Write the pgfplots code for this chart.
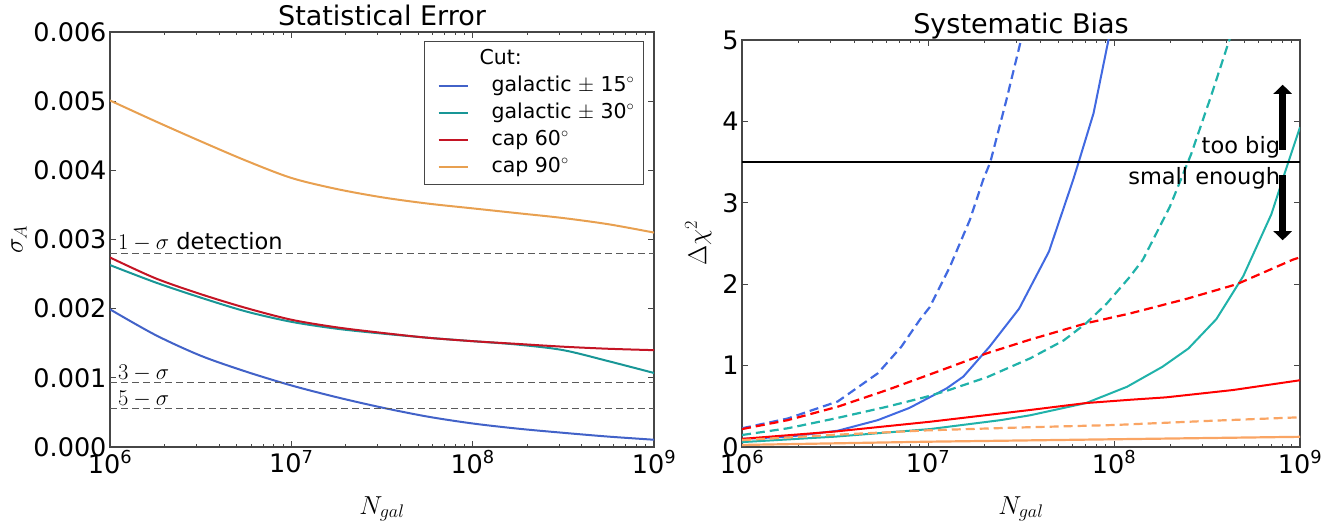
\RequirePackage{fix-cm}
\documentclass[border=0pt]{standalone}
\usepackage{fontspec}
\setmainfont{DejaVu Sans}
\usepackage{pgfplots}
\pgfplotsset{compat=1.18}
\usetikzlibrary{arrows.meta}

\definecolor{lblue}{RGB}{66,98,200}
\definecolor{lteal}{RGB}{24,150,150}
\definecolor{lred}{RGB}{196,20,36}
\definecolor{lorange}{RGB}{232,160,80}
\definecolor{rblue}{RGB}{65,105,225}
\definecolor{rteal}{RGB}{32,178,170}
\definecolor{rred}{RGB}{255,0,0}
\definecolor{rorange}{RGB}{250,165,100}
\definecolor{axgray}{RGB}{70,70,70}
\definecolor{dgray}{RGB}{90,90,90}

\newcommand\tickfont{\fontsize{25.5}{30}\selectfont}
\newcommand\titlefont{\fontsize{27}{32}\selectfont}
\newcommand\labfont{\fontsize{26}{31}\selectfont}
\newcommand\legfont{\fontsize{20.5}{24}\selectfont}
\newcommand\annfont{\fontsize{22.5}{26}\selectfont}

\begin{document}
\begin{tikzpicture}
\useasboundingbox (0pt,0pt) rectangle (1342pt,527pt);

% ---------------- Left: Statistical Error ----------------
\begin{axis}[
  scale only axis, anchor=south west,
  xmode=log, xmin=1e6, xmax=1e9,
  axis line style={line width=1.3pt, draw=axgray},
  tick style={axgray, line width=0.9pt},
  major tick length=6pt, minor tick length=3pt,
  tick label style={font=\tickfont},
  label style={font=\labfont},
  title style={font=\titlefont, at={(0.5,1)}, anchor=base},
  xtick={1e6,1e7,1e8,1e9},
  xticklabels={10\textsuperscript{6},10\textsuperscript{7},10\textsuperscript{8},10\textsuperscript{9}},
  minor xtick={2e6,3e6,4e6,5e6,6e6,7e6,8e6,9e6,2e7,3e7,4e7,5e7,6e7,7e7,8e7,9e7,2e8,3e8,4e8,5e8,6e8,7e8,8e8,9e8},
  xlabel shift=16pt, ylabel shift=0pt,
  at={(110pt,80pt)}, width=544pt, height=415pt,
  ymin=0, ymax=0.006,
  ytick={0,0.001,0.002,0.003,0.004,0.005,0.006},
  yticklabels={0.000,0.001,0.002,0.003,0.004,0.005,0.006},
  scaled y ticks=false,
  title={Statistical Error},
  xlabel={$N_{gal}$}, ylabel={$\sigma_A$},
  legend cell align=left,
  legend image code/.code={\path (0pt,0pt); \draw[#1] (7pt,0pt) -- (36pt,0pt);},
  legend style={at={(1,1)}, anchor=north east, xshift=-10pt, yshift=-9pt,
    draw=axgray, line width=1.2pt, fill=white, font=\legfont,
    inner xsep=6pt, inner ysep=4pt, row sep=0pt,
    nodes={inner xsep=3pt, inner ysep=3.5pt, text height=15pt, text depth=5pt},
    /tikz/every odd column/.append style={column sep=20pt}},
]
\addlegendimage{legend image code/.code={}}
\addlegendentry{\hspace{-12pt}Cut:}

\addplot[lblue, line width=2pt, smooth] coordinates {
(1e6,0.00199) (1.778e6,0.00162) (3.162e6,0.00132) (5.623e6,0.00109) (1e7,0.00089)
(1.778e7,0.00072) (3.162e7,0.00057) (5.623e7,0.00044) (1e8,0.00034)
(1.778e8,0.000265) (3.162e8,0.000205) (5.623e8,0.00015) (1e9,0.000105)};
\addlegendentry{galactic $\pm$ 15$^{\circ}$}

\addplot[lteal, line width=2pt, smooth] coordinates {
(1e6,0.00263) (1.778e6,0.00238) (3.162e6,0.00216) (5.623e6,0.00196) (1e7,0.00181)
(1.778e7,0.00171) (3.162e7,0.00164) (5.623e7,0.00158) (1e8,0.00153)
(1.778e8,0.00148) (3.162e8,0.00140) (5.623e8,0.00124) (1e9,0.00107)};
\addlegendentry{galactic $\pm$ 30$^{\circ}$}

\addplot[lred, line width=2pt, smooth] coordinates {
(1e6,0.00274) (1.778e6,0.00244) (3.162e6,0.00221) (5.623e6,0.00201) (1e7,0.00184)
(1.778e7,0.00173) (3.162e7,0.00165) (5.623e7,0.00158) (1e8,0.00153)
(1.778e8,0.00149) (3.162e8,0.00145) (5.623e8,0.00142) (1e9,0.00140)};
\addlegendentry{cap 60$^{\circ}$}

\addplot[lorange, line width=2pt, smooth] coordinates {
(1e6,0.00501) (1.778e6,0.00471) (3.162e6,0.00442) (5.623e6,0.00414) (1e7,0.00389)
(1.778e7,0.00373) (3.162e7,0.00361) (5.623e7,0.00352)
(1e8,0.00345) (1.778e8,0.00338) (3.162e8,0.00331) (5.623e8,0.00322) (1e9,0.00310)};
\addlegendentry{cap 90$^{\circ}$}

\addplot[forget plot, dgray, line width=1.3pt, dash pattern=on 7pt off 4pt] coordinates {(1e6,0.0028) (1e9,0.0028)};
\addplot[forget plot, dgray, line width=1.3pt, dash pattern=on 7pt off 4pt] coordinates {(1e6,0.00093) (1e9,0.00093)};
\addplot[forget plot, dgray, line width=1.3pt, dash pattern=on 7pt off 4pt] coordinates {(1e6,0.00056) (1e9,0.00056)};

\node[anchor=base west, inner sep=0pt, font=\annfont] at (axis cs:1.106e6,0.0028) [yshift=4pt] {$1-\sigma$ detection};
\node[anchor=base west, inner sep=0pt, font=\annfont] at (axis cs:1.106e6,0.00093) [yshift=3pt] {$3-\sigma$};
\node[anchor=base west, inner sep=0pt, font=\annfont] at (axis cs:1.106e6,0.00056) [yshift=3pt] {$5-\sigma$};
\end{axis}

% ---------------- Right: Systematic Bias ----------------
\begin{axis}[
  scale only axis, anchor=south west,
  xmode=log, xmin=1e6, xmax=1e9,
  axis line style={line width=1.3pt, draw=axgray},
  tick style={axgray, line width=0.9pt},
  major tick length=6pt, minor tick length=3pt,
  tick label style={font=\tickfont},
  label style={font=\labfont},
  title style={font=\titlefont, at={(0.5,1)}, anchor=base},
  xtick={1e6,1e7,1e8,1e9},
  xticklabels={10\textsuperscript{6},10\textsuperscript{7},10\textsuperscript{8},10\textsuperscript{9}},
  minor xtick={2e6,3e6,4e6,5e6,6e6,7e6,8e6,9e6,2e7,3e7,4e7,5e7,6e7,7e7,8e7,9e7,2e8,3e8,4e8,5e8,6e8,7e8,8e8,9e8},
  xlabel shift=16pt, ylabel shift=4pt,
  at={(742pt,80pt)}, width=558pt, height=407pt,
  ymin=0, ymax=5,
  ytick={0,1,2,3,4,5}, yticklabels={0,1,2,3,4,5},
  title={Systematic Bias},
  xlabel={$N_{gal}$}, ylabel={$\Delta\chi^2$},
]
\addplot[rblue, line width=2pt] coordinates {
(1e6,0.10) (1.762e6,0.125) (3.273e6,0.20) (5.370e6,0.33) (7.943e6,0.48) (1e7,0.60)
(1.259e7,0.72) (1.549e7,0.865) (2.138e7,1.23) (3.090e7,1.70) (4.467e7,2.40)
(6.026e7,3.28) (6.457e7,3.50) (7.762e7,4.10) (9.333e7,5.0) (1.0e8,5.4)};
\addplot[rblue, line width=2.2pt, dash pattern=on 9pt off 5pt] coordinates {
(1e6,0.23) (1.762e6,0.35) (3.273e6,0.56) (5.370e6,0.905) (7.178e6,1.23) (9.016e6,1.56)
(1.023e7,1.72) (1.309e7,2.21) (1.679e7,2.79) (1.977e7,3.28) (2.163e7,3.50)
(2.630e7,4.25) (3.162e7,5.0) (3.4e7,5.3)};
\addplot[rteal, line width=2pt] coordinates {
(1e6,0.06) (3.162e6,0.127) (1.023e7,0.22) (2.455e7,0.33) (3.548e7,0.39) (7.079e7,0.54)
(1.175e8,0.74) (1.820e8,0.985) (2.512e8,1.21) (3.548e8,1.57) (4.955e8,2.10)
(7.015e8,2.86) (8.511e8,3.45) (1e9,3.93)};
\addplot[rteal, line width=2.2pt, dash pattern=on 9pt off 5pt] coordinates {
(1e6,0.147) (1.762e6,0.23) (3.162e6,0.35) (6.026e6,0.495) (9.550e6,0.61) (1.259e7,0.69)
(2.089e7,0.86) (3.548e7,1.09) (5.370e7,1.31) (7.079e7,1.52) (9.120e7,1.76)
(1.216e8,2.09) (1.429e8,2.30) (1.995e8,2.95) (2.600e8,3.60) (3.311e8,4.30)
(4.169e8,5.0) (4.5e8,5.25)};
\addplot[rred, line width=2pt] coordinates {
(1e6,0.10) (3.162e6,0.19) (1.023e7,0.31) (3.548e7,0.455) (7.079e7,0.54)
(1.216e8,0.58) (1.905e8,0.61) (4.365e8,0.70) (1e9,0.82)};
\addplot[rred, line width=2.2pt, dash pattern=on 9pt off 5pt] coordinates {
(1e6,0.22) (1.762e6,0.33) (3.273e6,0.495) (6.026e6,0.70) (1.122e7,0.925)
(2.065e7,1.15) (3.548e7,1.32) (7.079e7,1.52) (1.216e8,1.64) (2.455e8,1.82)
(4.571e8,2.0) (9.120e8,2.3) (1e9,2.33)};
\addplot[rorange, line width=2.2pt] coordinates {
(1e6,0.025) (1e7,0.065) (1e8,0.095) (1e9,0.125)};
\addplot[rorange, line width=2.2pt, dash pattern=on 9pt off 5pt] coordinates {
(1e6,0.085) (3.162e6,0.15) (1e7,0.205) (3.162e7,0.24) (1e8,0.27) (3.162e8,0.32) (1e9,0.365)};

\addplot[black, line width=2.2pt] coordinates {(1e6,3.5) (1e9,3.5)};

\draw[line width=6.5pt, -{Triangle[width=18pt,length=9pt]}] (axis cs:8.07e8,3.65) -- (axis cs:8.07e8,4.45);
\draw[line width=6.5pt, -{Triangle[width=18pt,length=9pt]}] (axis cs:8.07e8,3.34) -- (axis cs:8.07e8,2.54);

\node[anchor=base east, inner sep=0pt, font=\annfont] at (axis cs:7.83e8,3.61) {too big};
\node[anchor=base east, inner sep=0pt, font=\annfont] at (axis cs:7.83e8,3.22) {small enough};
\end{axis}
\end{tikzpicture}
\end{document}
